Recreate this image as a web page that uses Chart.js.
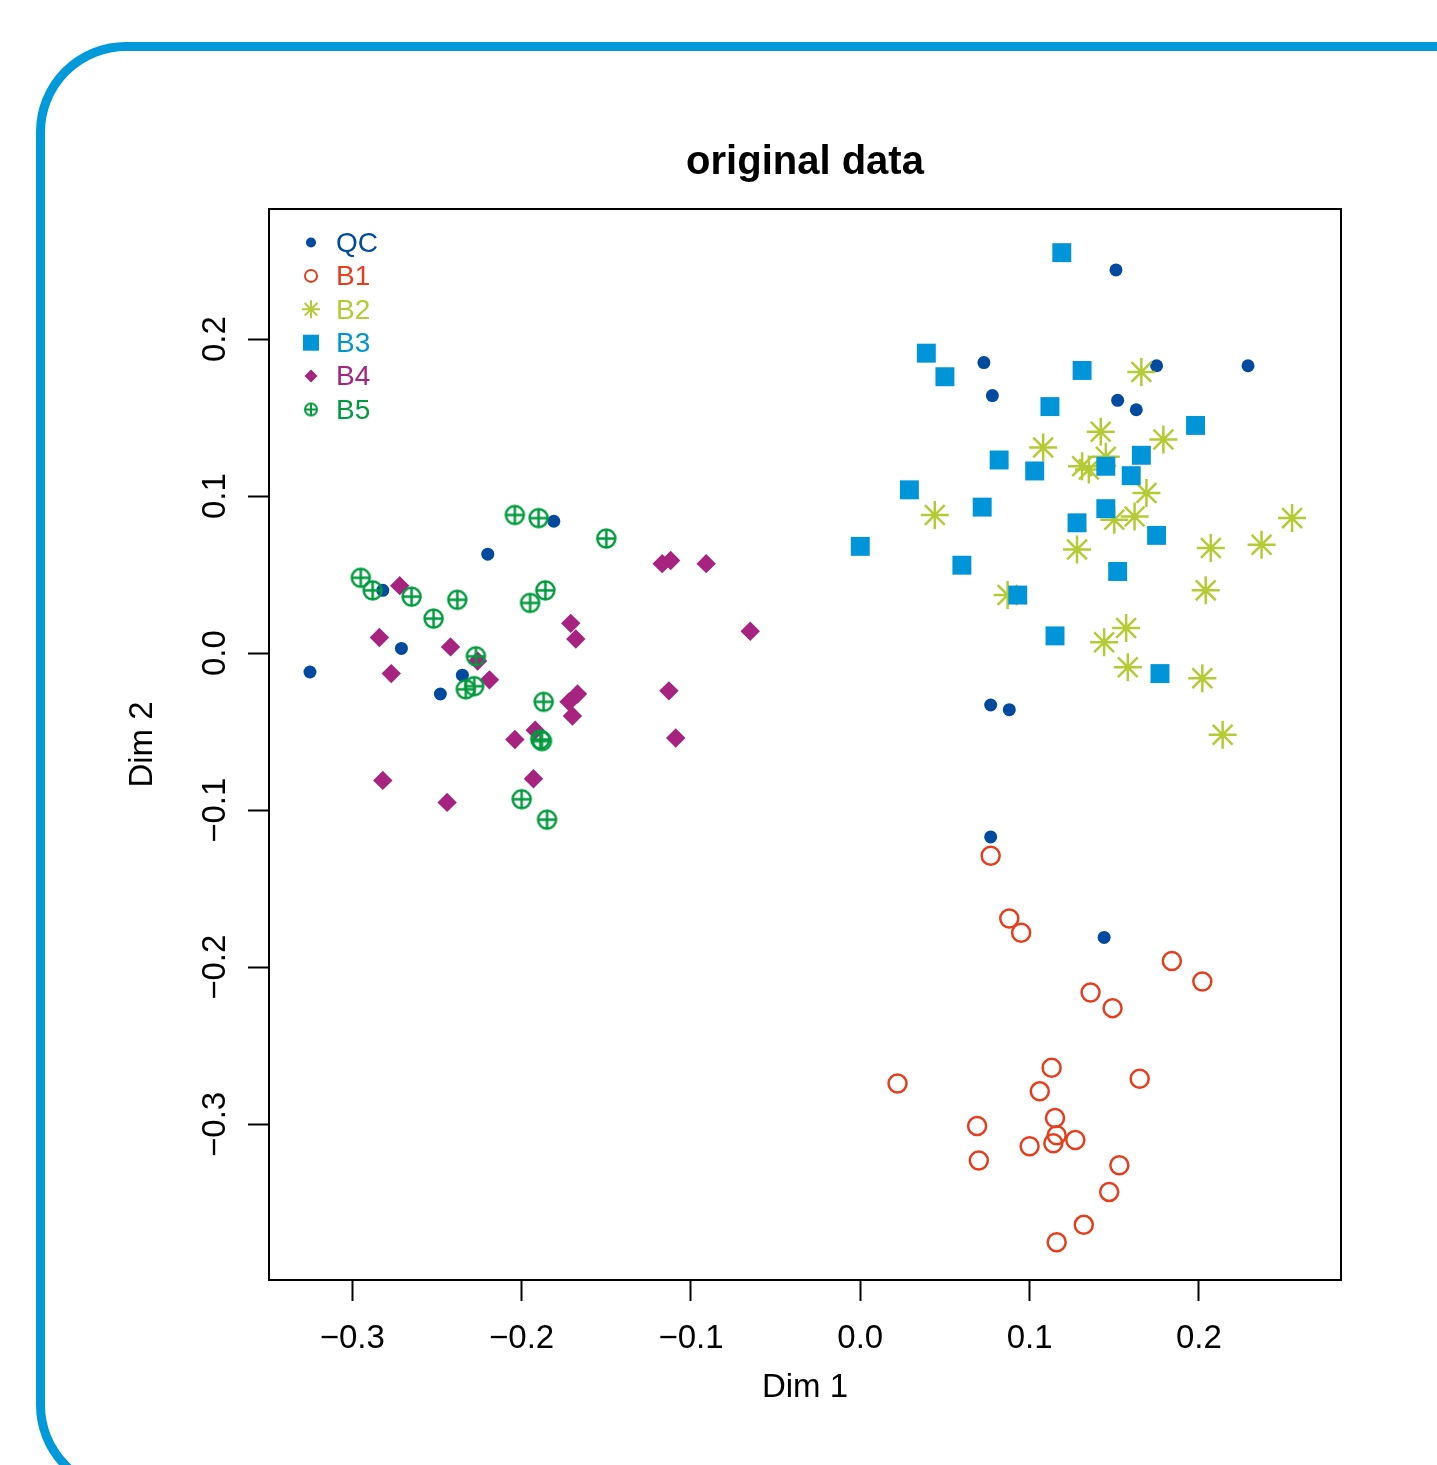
<!DOCTYPE html>
<html>
<head>
<meta charset="utf-8">
<title>original data</title>
<script src="https://cdn.jsdelivr.net/npm/chart.js@4.4.1/dist/chart.umd.min.js"></script>
<style>
  html, body { margin: 0; padding: 0; overflow: hidden; background: #fff; }
  #wrap { position: relative; width: 1437px; height: 1465px; overflow: hidden; }
  #frame {
    position: absolute; left: 36px; top: 42px; width: 1600px; height: 1453px;
    box-sizing: border-box; border: 9px solid #0099d9; border-radius: 90px;
  }
  #chart { position: absolute; left: 0; top: 0; }
</style>
</head>
<body>
<div id="wrap">
  <div id="frame"></div>
  <canvas id="chart" width="1437" height="1465"></canvas>
</div>
<script>
// values (Dim 1 = x, Dim 2 = y)
var qcX = [-0.325, -0.282, -0.271, -0.248, -0.235, -0.220, -0.181, 0.073, 0.078, 0.151, 0.175, 0.229, 0.152, 0.163, 0.077, 0.088, 0.077, 0.144];
var qcY = [-0.012, 0.040, 0.003, -0.026, -0.014, 0.063, 0.084, 0.185, 0.164, 0.244, 0.183, 0.183, 0.161, 0.155, -0.033, -0.036, -0.117, -0.181];

var b1X = [0.077, 0.088, 0.095, 0.184, 0.202, 0.136, 0.149, 0.022, 0.113, 0.106, 0.165, 0.069, 0.070, 0.115, 0.116, 0.114, 0.100, 0.127, 0.153, 0.147, 0.132, 0.116];
var b1Y = [-0.129, -0.169, -0.178, -0.196, -0.209, -0.216, -0.226, -0.274, -0.264, -0.279, -0.271, -0.301, -0.323, -0.296, -0.307, -0.312, -0.314, -0.310, -0.326, -0.343, -0.364, -0.375];

var b2X = [0.044, 0.087, 0.108, 0.128, 0.131, 0.135, 0.142, 0.145, 0.144, 0.150, 0.157, 0.158, 0.162, 0.166, 0.169, 0.179, 0.202, 0.204, 0.207, 0.214, 0.237, 0.255];
var b2Y = [0.088, 0.037, 0.131, 0.066, 0.119, 0.117, 0.141, 0.125, 0.007, 0.085, 0.016, -0.009, 0.087, 0.179, 0.102, 0.136, -0.016, 0.040, 0.067, -0.052, 0.069, 0.086];

var b3X = [0.000, 0.029, 0.039, 0.050, 0.060, 0.072, 0.082, 0.093, 0.103, 0.112, 0.115, 0.119, 0.128, 0.131, 0.145, 0.145, 0.152, 0.160, 0.166, 0.175, 0.177, 0.198];
var b3Y = [0.068, 0.104, 0.191, 0.176, 0.056, 0.093, 0.123, 0.037, 0.116, 0.157, 0.011, 0.255, 0.083, 0.180, 0.119, 0.092, 0.052, 0.113, 0.126, 0.075, -0.013, 0.145];

var b4X = [-0.284, -0.282, -0.277, -0.272, -0.244, -0.242, -0.226, -0.219, -0.204, -0.193, -0.192, -0.172, -0.171, -0.170, -0.168, -0.167, -0.117, -0.113, -0.112, -0.109, -0.091, -0.065];
var b4Y = [0.010, -0.081, -0.013, 0.043, -0.095, 0.004, -0.005, -0.017, -0.055, -0.080, -0.049, -0.031, 0.019, -0.040, 0.009, -0.026, 0.057, -0.024, 0.059, -0.054, 0.057, 0.014];

var b5X = [-0.295, -0.288, -0.265, -0.252, -0.238, -0.233, -0.228, -0.227, -0.204, -0.200, -0.195, -0.190, -0.189, -0.188, -0.187, -0.186, -0.185, -0.150];
var b5Y = [0.048, 0.040, 0.036, 0.022, 0.034, -0.023, -0.021, -0.002, 0.088, -0.093, 0.032, 0.086, -0.055, -0.056, -0.031, 0.040, -0.106, 0.073];

var xTicks = [-0.3, -0.2, -0.1, 0.0, 0.1, 0.2];
var yTicks = [-0.3, -0.2, -0.1, 0.0, 0.1, 0.2];

var FONT = '"Liberation Sans", Arial, Helvetica, sans-serif';
Chart.defaults.font.family = FONT;
Chart.defaults.color = '#000';

function fmt(v) {
  return (v < 0 ? '\u2212' : '') + Math.abs(v).toFixed(1);
}

function pts(xs, ys) {
  return xs.map(function (x, i) { return { x: x, y: ys[i] }; });
}

// R's pch 10: circle with a plus inside
function circlePlus(r, lw, color) {
  var c = document.createElement('canvas');
  var s = Math.ceil(2 * r + 2 * lw);
  c.width = c.height = s;
  var g = c.getContext('2d');
  var m = s / 2;
  g.strokeStyle = color;
  g.lineWidth = lw;
  g.beginPath();
  g.arc(m, m, r, 0, 2 * Math.PI);
  g.moveTo(m - r, m); g.lineTo(m + r, m);
  g.moveTo(m, m - r); g.lineTo(m, m + r);
  g.stroke();
  return c;
}

var cQC = '#004a9f', cB1 = '#e63e1c', cB2 = '#b4cb35', cB3 = '#0095d8', cB4 = '#a6237f', cB5 = '#009b3e';

// legend symbols are drawn a bit smaller than the plotted points
var legendItems = [
  { text: 'QC', color: cQC, style: 'circle', r: 5, bw: 0, fill: cQC },
  { text: 'B1', color: cB1, style: 'circle', r: 6, bw: 2, fill: 'rgba(0,0,0,0)' },
  { text: 'B2', color: cB2, style: 'star', r: 9, bw: 2, fill: cB2 },
  { text: 'B3', color: cB3, style: 'rect', r: 11.3, bw: 0, fill: cB3 },
  { text: 'B4', color: cB4, style: 'rectRot', r: 6.5, bw: 0, fill: cB4 },
  { text: 'B5', color: cB5, style: circlePlus(6, 2, cB5), r: 6, bw: 0, fill: cB5 }
];

var boxAndLegend = {
  id: 'boxAndLegend',
  afterDraw: function (chart) {
    var ctx = chart.ctx, a = chart.chartArea, y = chart.scales.y;
    ctx.save();
    ctx.strokeStyle = '#000';
    ctx.lineWidth = 2;
    ctx.strokeRect(a.left, a.top, a.right - a.left, a.bottom - a.top);

    // y tick labels, turned like R does it
    ctx.fillStyle = '#000';
    ctx.font = '33px ' + FONT;
    ctx.textAlign = 'center';
    ctx.textBaseline = 'middle';
    y.ticks.forEach(function (t) {
      ctx.save();
      ctx.translate(a.left - 53, y.getPixelForValue(t.value));
      ctx.rotate(-Math.PI / 2);
      ctx.fillText(fmt(t.value), 0, 0);
      ctx.restore();
    });

    // legend in the top left corner
    ctx.font = '28px ' + FONT;
    ctx.textAlign = 'left';
    legendItems.forEach(function (it, i) {
      var px = a.left + 42, py = a.top + 33.5 + i * 33.4;
      ctx.fillStyle = it.fill;
      ctx.strokeStyle = it.color;
      ctx.lineWidth = it.bw;
      Chart.helpers.drawPoint(ctx, { pointStyle: it.style, rotation: 0, radius: it.r, borderWidth: it.bw }, px, py);
      ctx.fillStyle = it.color;
      ctx.fillText(it.text, a.left + 67, py + 1.5);
    });
    ctx.restore();
  }
};

var ctx = document.getElementById('chart').getContext('2d');
var myChart = new Chart(ctx, {
  type: 'scatter',
  data: {
    datasets: [
      { label: 'QC', data: pts(qcX, qcY), order: 6, pointStyle: 'circle', pointRadius: 6.5,
        backgroundColor: cQC, borderColor: cQC, borderWidth: 0 },
      { label: 'B1', data: pts(b1X, b1Y), order: 5, pointStyle: 'circle', pointRadius: 9,
        backgroundColor: 'rgba(0,0,0,0)', borderColor: cB1, borderWidth: 2.5 },
      { label: 'B2', data: pts(b2X, b2Y), order: 4, pointStyle: 'star', pointRadius: 14,
        backgroundColor: cB2, borderColor: cB2, borderWidth: 2.5 },
      { label: 'B3', data: pts(b3X, b3Y), order: 3, pointStyle: 'rect', pointRadius: 13.4,
        backgroundColor: cB3, borderColor: cB3, borderWidth: 0 },
      { label: 'B4', data: pts(b4X, b4Y), order: 2, pointStyle: 'rectRot', pointRadius: 9.7,
        backgroundColor: cB4, borderColor: cB4, borderWidth: 0 },
      { label: 'B5', data: pts(b5X, b5Y), order: 1, pointStyle: circlePlus(9, 2.5, cB5), pointRadius: 9,
        backgroundColor: cB5, borderColor: cB5, borderWidth: 0 }
    ]
  },
  options: {
    responsive: false,
    animation: false,
    devicePixelRatio: 1,
    layout: { padding: { left: 0, top: 0, right: 96, bottom: 0 } },
    plugins: {
      legend: { display: false },
      tooltip: { enabled: false },
      title: {
        display: true,
        text: 'original data',
        fullSize: false,
        color: '#000',
        font: { size: 40, weight: 'bold' },
        padding: { top: 139, bottom: 22 }
      }
    },
    scales: {
      x: {
        type: 'linear',
        min: -0.3492,
        max: 0.2839,
        afterBuildTicks: function (s) { s.ticks = xTicks.map(function (v) { return { value: v }; }); },
        afterFit: function (s) { s.height = 185; },
        ticks: { autoSkip: false, maxRotation: 0, padding: 18, font: { size: 33 }, color: '#000',
          callback: function (v) { return fmt(v); } },
        grid: { display: true, drawOnChartArea: false, drawTicks: true, tickLength: 21, tickWidth: 2, tickColor: '#000' },
        border: { display: true, color: '#000', width: 2 },
        title: { display: true, text: 'Dim 1', font: { size: 33 }, color: '#000', padding: { top: 0, bottom: 57 } }
      },
      y: {
        type: 'linear',
        min: -0.3991,
        max: 0.2828,
        afterBuildTicks: function (s) { s.ticks = yTicks.map(function (v) { return { value: v }; }); },
        afterFit: function (s) { s.width = 269; },
        ticks: { display: false },
        grid: { display: true, drawOnChartArea: false, drawTicks: true, tickLength: 21, tickWidth: 2, tickColor: '#000' },
        border: { display: true, color: '#000', width: 2 },
        title: { display: true, text: 'Dim 2', font: { size: 33 }, color: '#000', padding: { top: 123, bottom: 0 } }
      }
    }
  },
  plugins: [boxAndLegend]
});
</script>
</body>
</html>
